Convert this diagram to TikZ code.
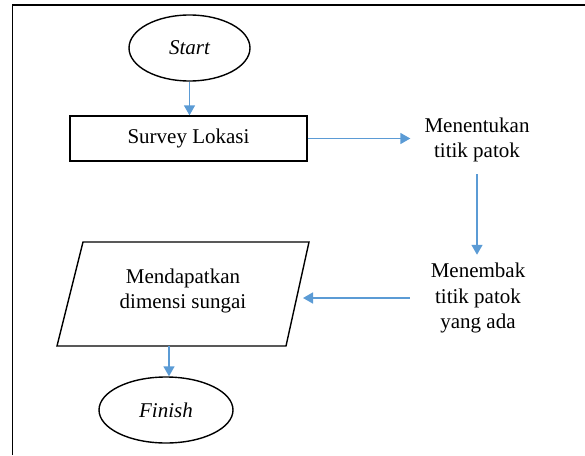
\documentclass[tikz,border=0pt]{standalone}
\usepackage{fontspec}
\setmainfont{Liberation Serif}
\usetikzlibrary{shapes.geometric,arrows.meta}
\definecolor{arrblue}{RGB}{91,155,213}
\begin{document}
\begin{tikzpicture}[x=1pt,y=-1pt,
  every node/.style={font=\fontsize{21}{25.5}\selectfont},
  shp/.style={draw=black,line width=1.4pt},
  term/.style={shp,ellipse,inner sep=0pt},
  procbox/.style={shp,rectangle,inner sep=0pt},
  plain/.style={align=center,inner sep=0pt},
  arr/.style={draw=arrblue,line width=1.6pt,-{Triangle[length=10pt,width=11pt]}}]
\useasboundingbox (0,0) rectangle (585,455);
\draw[line width=1.5pt] (12.5,455) -- (12.5,5) -- (585,5);

\node[term,minimum width=121pt,minimum height=66pt] (start) at (189.5,48) {\itshape Start};
\node[procbox,minimum width=237pt,minimum height=45pt] (survey) at (188.5,138.5) {Survey Lokasi};
\node[plain] (tentukan) at (477,140) {Menentukan\\titik patok};
\node[plain] (tembak) at (478,298) {Menembak\\titik patok\\yang ada};
\coordinate (pBL) at (57,346);
\coordinate (pTL) at (83,242);
\coordinate (pTR) at (309,242);
\coordinate (pBR) at (286,346);
\draw[shp,line join=miter] (pBL) -- (pTL) -- (pTR) -- (pBR) -- cycle;
\node[plain] (dapat) at (183,291) {Mendapatkan\\dimensi sungai};
\coordinate (dapatIn) at (303,298);
\coordinate (dapatOut) at (169,346);
\node[term,minimum width=134pt,minimum height=66pt] (finish) at (166,410) {\itshape Finish};

\draw[arr] (start.south) -- (start.south |- survey.north);
\draw[arr,shorten >=14pt] (survey.east) -- (survey.east -| tentukan.west);
\draw[arr,shorten <=12pt,shorten >=8pt] (tentukan.south) -- (tentukan.south |- tembak.north);
\draw[arr,shorten <=21pt] (tembak.west |- dapatIn) -- (dapatIn);
\draw[arr] (dapatOut) -- (dapatOut |- finish.north);
\end{tikzpicture}
\end{document}
